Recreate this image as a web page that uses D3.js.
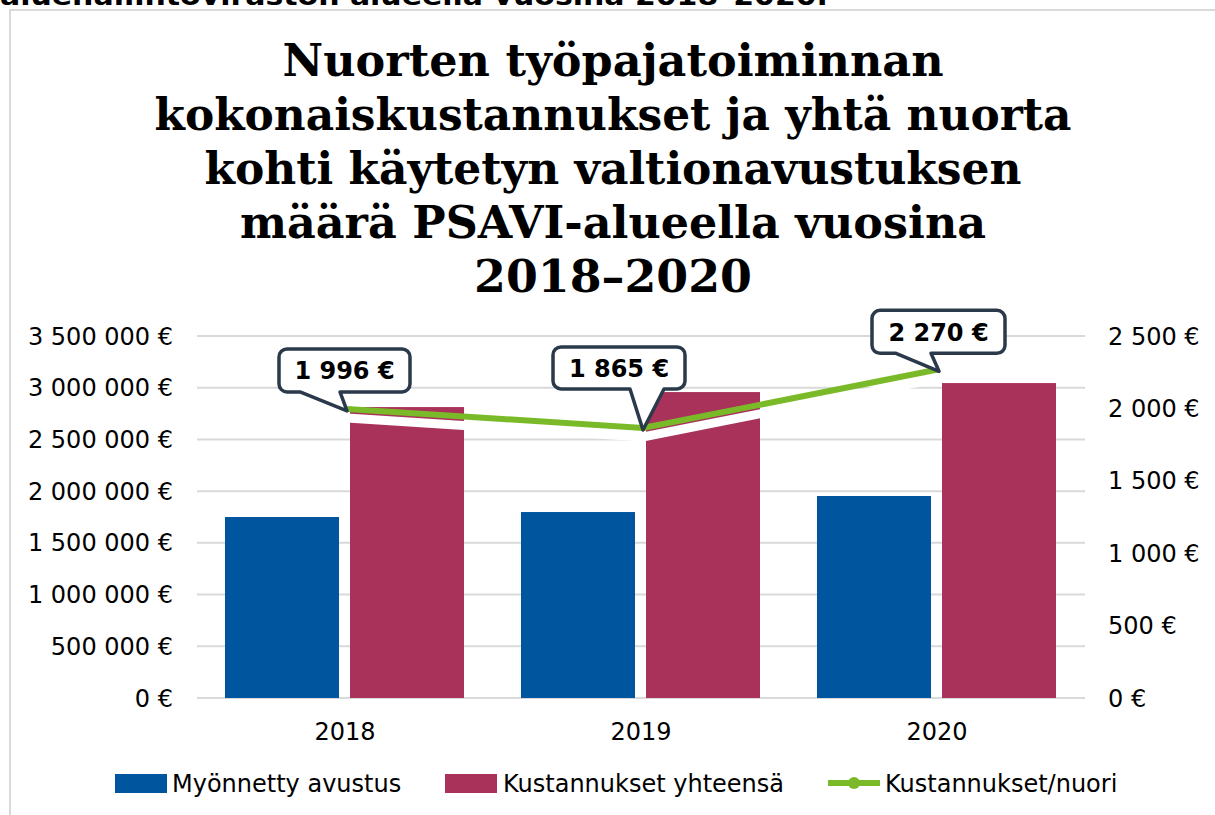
<!DOCTYPE html>
<html lang="fi">
<head>
<meta charset="UTF-8"/>
<title>Nuorten työpajatoiminnan kokonaiskustannukset</title>
<script src="https://d3js.org/d3.v7.min.js"></script>
<style>
  body { margin: 0; background: #fff; }
  svg { display: block; }
  text { font-family: "DejaVu Sans", Verdana, sans-serif; fill: #000; }
</style>
</head>
<body>
<script>
// data
var years = ["2018", "2019", "2020"];
var series = ["Myönnetty avustus", "Kustannukset yhteensä"];
var avustus = [1750000, 1798000, 1953000];
var kustannukset = [2813000, 2958000, 3045000];
var perNuori = [1996, 1865, 2270];
var leftTicks = [0, 500000, 1000000, 1500000, 2000000, 2500000, 3000000, 3500000];
var rightTicks = [0, 500, 1000, 1500, 2000, 2500];
var titleLines = ["Nuorten työpajatoiminnan",
                  "kokonaiskustannukset ja yhtä nuorta",
                  "kohti käytetyn valtionavustuksen",
                  "määrä PSAVI-alueella vuosina",
                  "2018–2020"];
var titleWidths = [661, 917, 817, 746, 278];

var w = 1215, h = 815;
var plotLeft = 197, plotRight = 1085, plotTop = 336, plotBottom = 698;
var colors = ["#00559f", "#a8325a"];
var green = "#7aba29";
var navy = "#2b3a4b";

// euro format with spaces
function euro(v) {
  return d3.format(",")(v).replace(/,/g, " ") + " €";
}

var svg = d3.select("body").append("svg")
  .attr("width", w)
  .attr("height", h);

// cut-off line of text above the chart
svg.append("text")
  .attr("x", 0).attr("y", 5)
  .attr("font-weight", "bold")
  .attr("font-size", 26)
  .attr("textLength", 828)
  .attr("lengthAdjust", "spacingAndGlyphs")
  .text("aluehallintoviraston alueella vuosina 2018–2020.");

// chart border
svg.append("rect")
  .attr("x", 10).attr("y", 10)
  .attr("width", 1230).attr("height", 830)
  .attr("fill", "none")
  .attr("stroke", "#d9d9d9")
  .attr("stroke-width", 2);

// title
svg.selectAll(".title")
  .data(titleLines)
  .enter()
  .append("text")
  .attr("class", "title")
  .attr("x", 613)
  .attr("y", function(d, i) { return 76 + i * 54; })
  .attr("text-anchor", "middle")
  .style("font-family", "'DejaVu Serif', Georgia, serif")
  .attr("font-weight", "bold")
  .attr("font-size", 44)
  .attr("textLength", function(d, i) { return titleWidths[i]; })
  .attr("lengthAdjust", "spacingAndGlyphs")
  .text(function(d) { return d; });

var xScale = d3.scaleBand()
  .domain(years)
  .range([plotLeft, plotRight]);

var xInner = d3.scaleBand()
  .domain(series)
  .range([28, xScale.bandwidth() - 29])
  .paddingInner(0.088);

var yLeft = d3.scaleLinear()
  .domain([0, 3500000])
  .range([plotBottom, plotTop]);

var yRight = d3.scaleLinear()
  .domain([0, 2500])
  .range([plotBottom, plotTop]);

// gridlines
svg.selectAll(".grid")
  .data(leftTicks)
  .enter()
  .append("line")
  .attr("x1", plotLeft).attr("x2", plotRight)
  .attr("y1", function(d) { return yLeft(d); })
  .attr("y2", function(d) { return yLeft(d); })
  .attr("stroke", "#d9d9d9")
  .attr("stroke-width", 2);

// left axis labels
svg.selectAll(".ltick")
  .data(leftTicks)
  .enter()
  .append("text")
  .attr("x", 173)
  .attr("y", function(d) { return yLeft(d) + 8.5; })
  .attr("text-anchor", "end")
  .attr("font-size", 24)
  .text(euro);

// right axis labels
svg.selectAll(".rtick")
  .data(rightTicks)
  .enter()
  .append("text")
  .attr("x", 1108)
  .attr("y", function(d) { return yRight(d) + 8.5; })
  .attr("font-size", 24)
  .text(euro);

// category labels
svg.selectAll(".xlab")
  .data(years)
  .enter()
  .append("text")
  .attr("x", function(d) { return xScale(d) + xScale.bandwidth() / 2; })
  .attr("y", 740)
  .attr("text-anchor", "middle")
  .attr("font-size", 24)
  .text(function(d) { return d; });

// bars
var barData = [];
years.forEach(function(y, i) {
  barData.push({ year: y, s: series[0], v: avustus[i], c: colors[0] });
  barData.push({ year: y, s: series[1], v: kustannukset[i], c: colors[1] });
});

svg.selectAll(".bar")
  .data(barData)
  .enter()
  .append("rect")
  .attr("x", function(d) { return xScale(d.year) + xInner(d.s); })
  .attr("y", function(d) { return yLeft(d.v); })
  .attr("width", xInner.bandwidth())
  .attr("height", function(d) { return yLeft(0) - yLeft(d.v); })
  .attr("fill", function(d) { return d.c; });

// line with white shadow
var pts = years.map(function(y, i) {
  return [xScale(y) + xScale.bandwidth() / 2 + 2, yRight(perNuori[i])];
});

svg.append("path")
  .attr("d", d3.line()(pts.map(function(p) { return [p[0], p[1] + 9]; })))
  .attr("fill", "none")
  .attr("stroke", "#fff")
  .attr("stroke-width", 9);

svg.append("path")
  .attr("d", d3.line()(pts))
  .attr("fill", "none")
  .attr("stroke", green)
  .attr("stroke-width", 6);

// callouts: box offset from point, pointer base offsets
var callouts = [
  { dx: -68, dy: -60, w: 131, h: 43, b1: -47, b2: -7 },
  { dx: -90, dy: -81, w: 132, h: 42, b1: -13, b2: 21 },
  { dx: -67, dy: -59, w: 133, h: 43, b1: -43, b2: -8 }
];

function calloutPath(px, py, c) {
  var x = px + c.dx, y = py + c.dy, r = 8;
  var p = d3.path();
  p.moveTo(x + r, y);
  p.lineTo(x + c.w - r, y);
  p.arcTo(x + c.w, y, x + c.w, y + r, r);
  p.lineTo(x + c.w, y + c.h - r);
  p.arcTo(x + c.w, y + c.h, x + c.w - r, y + c.h, r);
  p.lineTo(px + c.b2, y + c.h);
  p.lineTo(px, py + 2);
  p.lineTo(px + c.b1, y + c.h);
  p.lineTo(x + r, y + c.h);
  p.arcTo(x, y + c.h, x, y + c.h - r, r);
  p.lineTo(x, y + r);
  p.arcTo(x, y, x + r, y, r);
  p.closePath();
  return p.toString();
}

pts.forEach(function(p, i) {
  var c = callouts[i];
  svg.append("path")
    .attr("d", calloutPath(p[0], p[1], c))
    .attr("fill", "#fff")
    .attr("stroke", navy)
    .attr("stroke-width", 3.5)
    .attr("stroke-linejoin", "round");
  svg.append("text")
    .attr("x", p[0] + c.dx + c.w / 2)
    .attr("y", p[1] + c.dy + c.h / 2 + 9)
    .attr("text-anchor", "middle")
    .attr("font-weight", "bold")
    .attr("font-size", 24)
    .text(euro(perNuori[i]));
});

// legend
var legend = [
  { name: series[0], type: "rect", c: colors[0], x: 115, tx: 172 },
  { name: series[1], type: "rect", c: colors[1], x: 445, tx: 503 },
  { name: "Kustannukset/nuori", type: "line", c: green, x: 828, tx: 885 }
];

legend.forEach(function(d) {
  if (d.type === "rect") {
    svg.append("rect")
      .attr("x", d.x).attr("y", 774)
      .attr("width", 52).attr("height", 19)
      .attr("fill", d.c);
  } else {
    svg.append("line")
      .attr("x1", d.x).attr("x2", d.x + 52)
      .attr("y1", 783).attr("y2", 783)
      .attr("stroke", d.c).attr("stroke-width", 6);
    svg.append("circle")
      .attr("cx", d.x + 26).attr("cy", 783)
      .attr("r", 6).attr("fill", d.c);
  }
  svg.append("text")
    .attr("x", d.tx).attr("y", 792)
    .attr("font-size", 24)
    .text(d.name);
});
</script>
</body>
</html>
